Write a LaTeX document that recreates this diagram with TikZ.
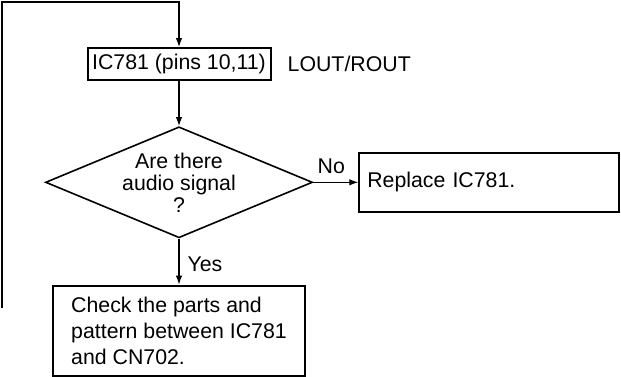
\documentclass[tikz,border=0pt]{standalone}
\usepackage{fontspec}
\setmainfont{Liberation Sans}
\usepackage{tikz}
\usetikzlibrary{arrows.meta,positioning,shapes.geometric}

\begin{document}
\begin{tikzpicture}[x=1pt, y=-1pt,
      box/.style={draw, line width=2pt, inner sep=0pt,
                  font=\fontsize{21.3}{26}\selectfont, align=left},
      dec/.style={draw, diamond, line width=1.6pt, inner sep=0pt, aspect=2.4,
                  minimum width=267pt, minimum height=111pt,
                  font=\fontsize{21.3}{22}\selectfont, align=center},
      lbl/.style={inner sep=0pt, font=\fontsize{21.3}{22}\selectfont},
      arr/.style={-{Latex[length=9pt,width=6.5pt]}, line width=1.1pt}
  ]
    \useasboundingbox (0,0) rectangle (621,376);
    \node[box, minimum width=183pt, minimum height=32pt] (ic) at (179,64) {IC781 (pins 10,11)};
    \node[lbl, right=16pt of ic] (out) {LOUT/ROUT};
    \node[dec, below=45pt of ic] (dia) {Are there\\ audio signal\\ ?};
    \node[box, right=45pt of dia, minimum width=260pt, minimum height=59pt,
          text width=244pt, inner xsep=8pt] (rep) {Replace IC781.};
    \node[box, below=46pt of dia, minimum width=252pt, minimum height=90pt] (chk)
          {Check the parts and\\ pattern between IC781\\ and CN702.};
    \coordinate (ret) at (2,308);
    \coordinate (top) at (2,2);
    \draw[arr] (ic) -- (dia);
    \draw[arr] (dia) -- node[lbl, above=8pt, pos=0.4] (no) {No} (rep);
    \draw[arr] (dia) -- node[lbl, right=8pt, pos=0.56] (yes) {Yes} (chk);
    \draw[arr] (ret) -- (top) -| (ic.north);
  \end{tikzpicture}
\end{document}
